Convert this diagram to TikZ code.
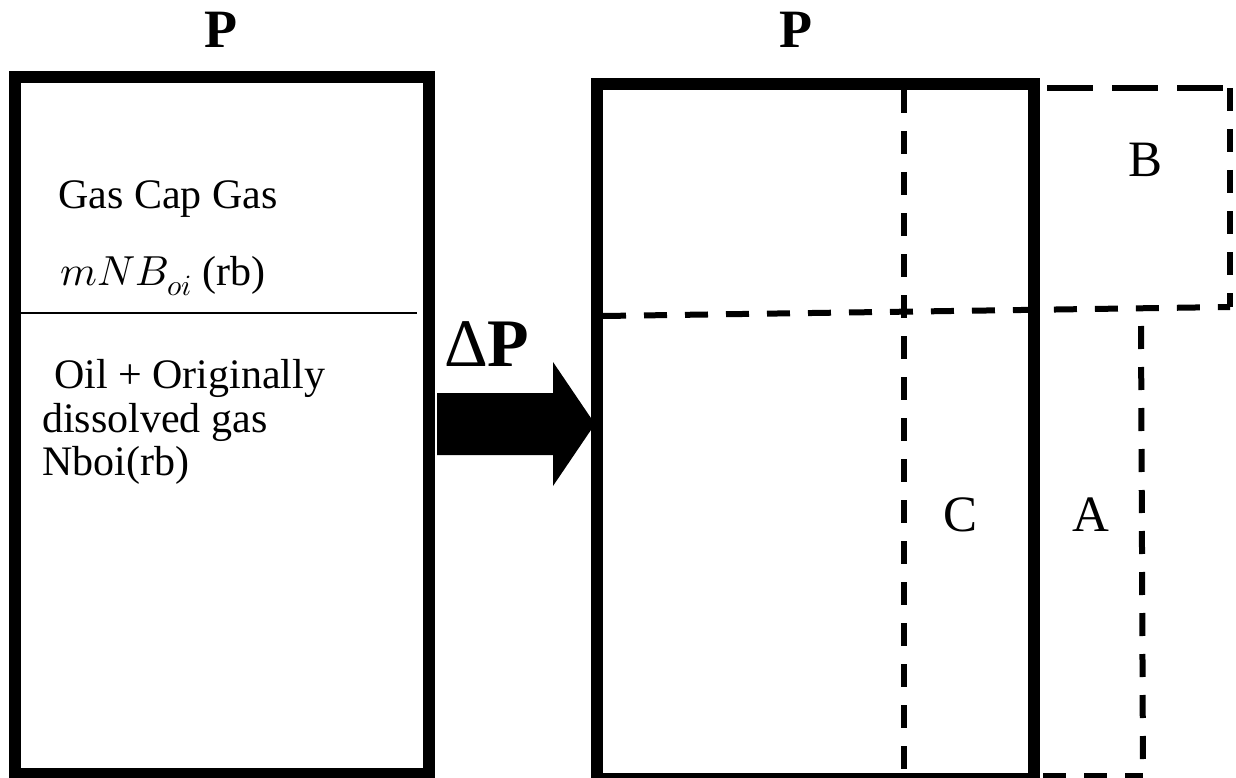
\documentclass[tikz,border=0pt]{standalone}
\usepackage{fontspec}
\usepackage{unicode-math}
\setmainfont{Liberation Serif}
\setmathfont{Latin Modern Math}
\usepackage{tikz}
\usetikzlibrary{positioning}

\tikzset{
  wall/.style={line width=12pt},
  cut/.style={line width=6pt, dash pattern=on 23pt off 18pt},
  body/.style={anchor=base west, inner sep=0pt, font=\fontsize{42}{50}\selectfont},
  zone/.style={anchor=base, inner sep=0pt, font=\fontsize{51}{60}\selectfont},
  press/.style={anchor=base, inner sep=0pt, font=\fontsize{54}{60}\selectfont\bfseries}
}

\begin{document}
\begin{tikzpicture}[x=1pt,y=-1pt]
  \useasboundingbox (0,0) rectangle (1236,778);
  \clip (0,0) rectangle (1236,778);
  % before: reservoir at initial pressure
  \draw[wall] (15,77) rectangle (429,774);
  \draw[line width=1.2pt] (21,313) -- (417,313);
  \node[press] (pLeft) at (221,48) {P};
  \node[body] (gasCap) at (58,208) {Gas Cap Gas};
  \node[body] (gasVol) at (60,285) {$mNB_{oi}$ (rb)};
  \node[body] (oilA) at (54,388) {Oil + Originally};
  \node[body] (oilB) at (42,432) {dissolved gas};
  \node[body] (oilC) at (42,475) {Nboi(rb)};
  % pressure drop
  \node[anchor=base west, inner sep=0pt, font=\fontsize{68}{74}\selectfont] (dP) at (444,366) {Δ\textbf{P}};
  \fill (437,393) -- (553,393) -- (553,362) -- (595,424) -- (553,486) -- (553,455) -- (437,455) -- cycle;
  % after: expanded volumes
  \draw[wall] (597,84) rectangle (1034,779);
  \node[press] (pRight) at (796,48) {P};
  \draw[cut] (904,90) -- (904,773);
  \draw[cut] (603,316) -- (1230,307);
  \draw[line width=6pt, dash pattern=on 46pt off 19pt] (1047,88) -- (1230,88);
  \draw[cut] (1230,88) -- (1230,307);
  \draw[cut] (1141,326) -- (1143,776);
  \draw[cut] (1043,776) -- (1143,776);
  \node[zone] (zoneB) at (1145,177) {B};
  \node[zone] (zoneC) at (960,531) {C};
  \node[zone] (zoneA) at (1091,531) {A};
\end{tikzpicture}
\end{document}
